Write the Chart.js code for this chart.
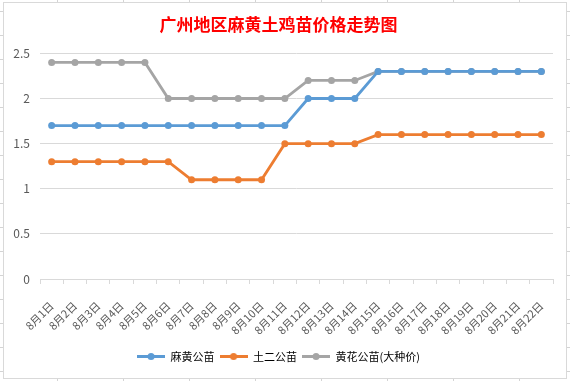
<!DOCTYPE html>
<html>
<head>
<meta charset="utf-8">
<script src="https://cdn.jsdelivr.net/npm/chart.js@4/dist/chart.umd.min.js"></script>
<style>
  html, body { margin: 0; padding: 0; }
  body {
    width: 570px; height: 381px; position: relative; overflow: hidden;
    background-color: #fff;
    background-image:
      repeating-linear-gradient(90deg, transparent 0 57px, #d4d4d4 57px 58px, transparent 58px 66px),
      repeating-linear-gradient(180deg, transparent 0 11px, #d4d4d4 11px 12px, transparent 12px 24px);
  }
  #box {
    position: absolute; left: 3px; top: 2px; width: 564px; height: 377px;
    box-sizing: border-box; border: 1px solid #d9d9d9; background: #fff;
  }
  #myChart { display: block; }
</style>
</head>
<body>
<div id="box"><canvas id="myChart" width="562" height="375"></canvas></div>
<script>
const days = ['8月1日','8月2日','8月3日','8月4日','8月5日','8月6日','8月7日','8月8日','8月9日','8月10日','8月11日',
  '8月12日','8月13日','8月14日','8月15日','8月16日','8月17日','8月18日','8月19日','8月20日','8月21日','8月22日']
const mahuang = [1.7,1.7,1.7,1.7,1.7,1.7,1.7,1.7,1.7,1.7,1.7,2,2,2,2.3,2.3,2.3,2.3,2.3,2.3,2.3,2.3]
const tuer = [1.3,1.3,1.3,1.3,1.3,1.3,1.1,1.1,1.1,1.1,1.5,1.5,1.5,1.5,1.6,1.6,1.6,1.6,1.6,1.6,1.6,1.6]
const huanghua = [2.4,2.4,2.4,2.4,2.4,2,2,2,2,2,2,2.2,2.2,2.2,2.3,2.3,2.3,2.3,2.3,2.3,2.3,2.3]
const names = ['麻黄公苗', '土二公苗', '黄花公苗(大种价)']
const colors = ['#5b9bd5', '#ed7d31', '#a5a5a5']

const ctx = document.getElementById('myChart')
const fontFamily = "'Noto Sans CJK SC', 'Noto Sans', sans-serif"
Chart.defaults.color = '#595959'
Chart.defaults.font.family = fontFamily

// legend marker: short line with a dot in the middle
function legendMarker(color){
    const c = document.createElement('canvas')
    c.width = 28
    c.height = 9
    const g = c.getContext('2d')
    g.strokeStyle = color
    g.lineWidth = 3
    g.beginPath()
    g.moveTo(0, 4.5)
    g.lineTo(28, 4.5)
    g.stroke()
    g.fillStyle = color
    g.beginPath()
    g.arc(14, 4.5, 3.5, 0, Math.PI * 2)
    g.fill()
    return c
}

const series = [mahuang, tuer, huanghua]

new Chart(ctx, {
    type: 'line',
    data: {
        labels: days,
        datasets: series.map((values, i)=>({
            label: names[i],
            data: values,
            borderColor: colors[i],
            backgroundColor: colors[i],
            borderWidth: 2.8,
            pointRadius: 3.5,
            pointBorderWidth: 0,
            pointBackgroundColor: colors[i],
            tension: 0
        }))
    },
    options: {
        responsive: false,
        animation: false,
        layout: { padding: { left: 0, right: 13, top: 0, bottom: 6 } },
        plugins: {
            title: {
                display: true,
                text: '广州地区麻黄土鸡苗价格走势图',
                color: '#ff0000',
                font: { size: 17, weight: 'bold', family: fontFamily },
                padding: { top: 11, bottom: 19 }
            },
            legend: {
                display: true,
                position: 'bottom',
                labels: {
                    usePointStyle: true,
                    pointStyleWidth: 28,
                    boxHeight: 9,
                    padding: 5,
                    font: { size: 11 },
                    color: '#595959',
                    generateLabels: (chart)=>{
                        return chart.data.datasets.map((ds, i)=>({
                            text: ds.label,
                            fillStyle: colors[i],
                            strokeStyle: colors[i],
                            lineWidth: 0,
                            pointStyle: legendMarker(colors[i]),
                            datasetIndex: i,
                            hidden: false
                        }))
                    }
                }
            },
            tooltip: { enabled: false }
        },
        scales: {
            x: {
                offset: true,
                grid: {
                    offset: true,
                    drawOnChartArea: false,
                    drawTicks: true,
                    tickLength: 5,
                    color: '#d9d9d9'
                },
                border: { display: true, color: '#d9d9d9' },
                ticks: {
                    autoSkip: false,
                    maxRotation: 45,
                    minRotation: 45,
                    padding: 15,
                    font: { size: 11 },
                    color: '#595959'
                },
                afterFit: (scale)=>{ scale.height = 67 }
            },
            y: {
                min: 0,
                max: 2.5,
                ticks: {
                    stepSize: 0.5,
                    padding: 10,
                    font: { size: 12 },
                    color: '#595959',
                    callback: (value)=>String(value)
                },
                grid: { color: '#d9d9d9', drawTicks: false },
                border: { display: false },
                afterFit: (scale)=>{ scale.width = 36 }
            }
        }
    }
});
</script>
</body>
</html>
